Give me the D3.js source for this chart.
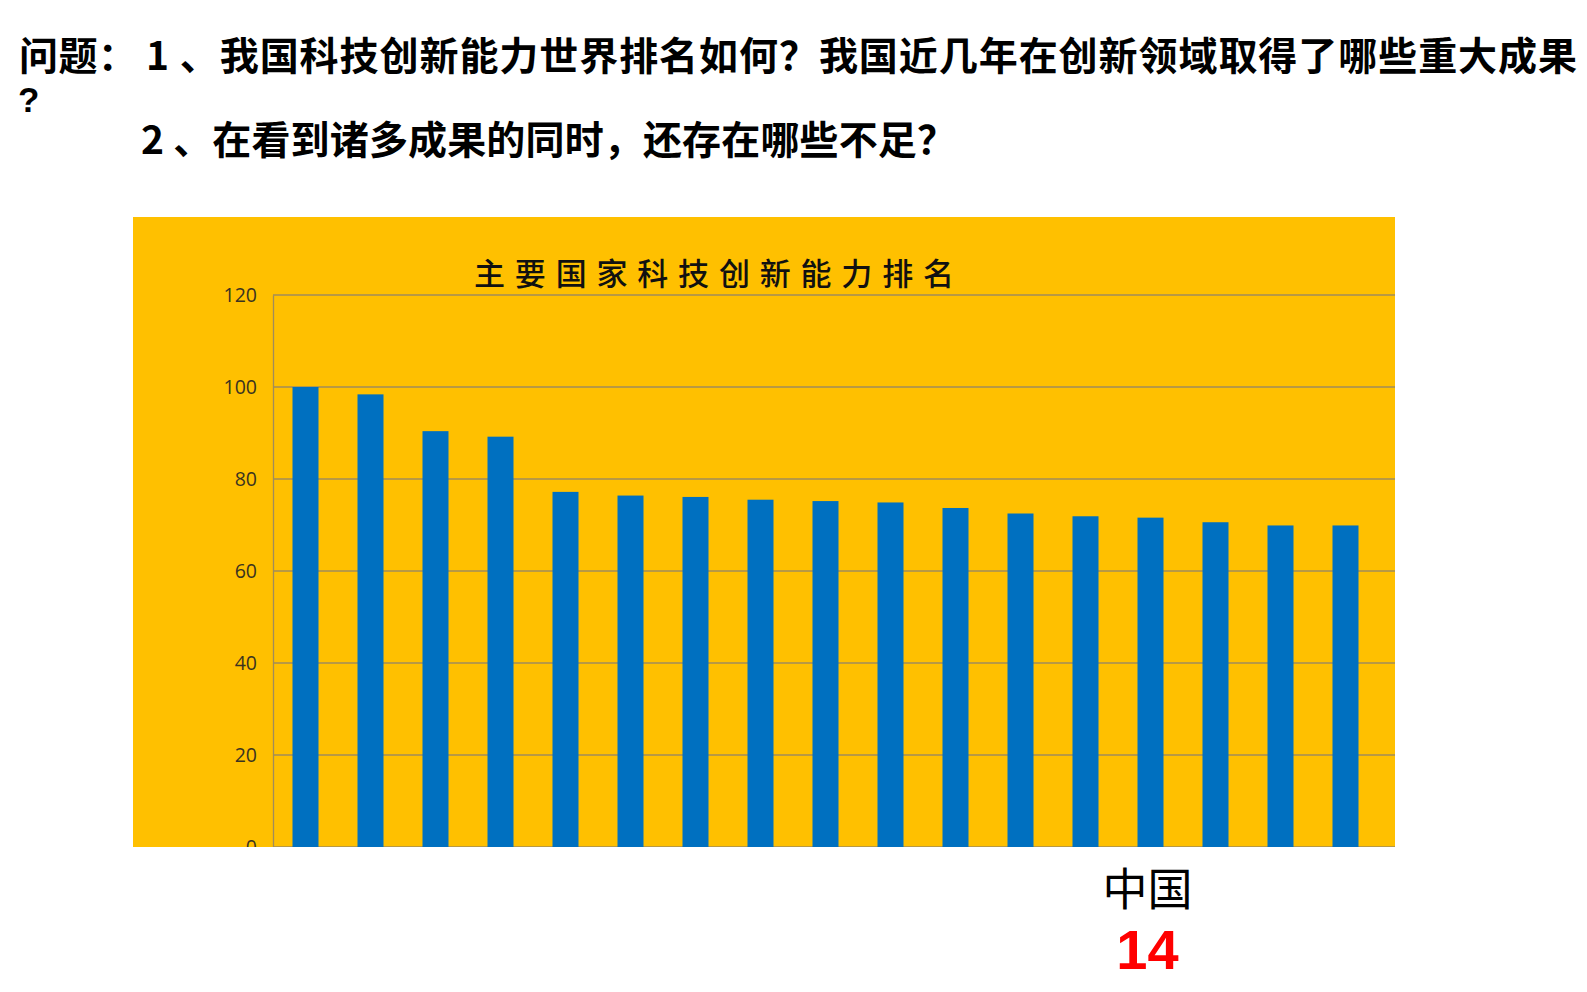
<!DOCTYPE html>
<html>
<head>
<meta charset="utf-8">
<script src="https://cdn.jsdelivr.net/npm/d3@7"></script>
<style>
  body { margin: 0; background: #fff; }
  svg { display: block; }
</style>
</head>
<body>
<div class="chart"></div>
<script>
// chart data
var ranks = ["1","2","3","4","5","6","7","8","9","10","11","12","13","14","15","16","17"];
var scores = [100, 98.4, 90.4, 89.2, 77.2, 76.4, 76.1, 75.5, 75.2, 74.9, 73.7, 72.5, 71.9, 71.6, 70.6, 69.9, 69.9];
var barLabels = ["","","","","","","","","","","","","","中国","","",""];
var yTicks = [0, 20, 40, 60, 80, 100, 120];

var chartTitle = "主要国家科技创新能力排名";
var question1a = "问题：";
var question1b = "1 、我国科技创新能力世界排名如何？我国近几年在创新领域取得了哪些重大成果";
var question1c = "?";
var question2 = "2 、在看到诸多成果的同时，还存在哪些不足？";
var chinaRank = "14";

var svgWidth = 1587;
var svgHeight = 992;

var svg = d3.select(".chart")
  .append("svg")
  .attr("width", svgWidth)
  .attr("height", svgHeight);

var cjk = "'Noto Sans CJK SC', 'Noto Sans', sans-serif";

// the question text at the top of the slide
svg.append("text")
  .attr("x", 19).attr("y", 53)
  .attr("dominant-baseline", "central")
  .attr("font-family", cjk).attr("font-weight", 700).attr("font-size", "39px")
  .attr("textLength", 118)
  .text(question1a);

svg.append("text")
  .attr("x", 146).attr("y", 53)
  .attr("dominant-baseline", "central")
  .attr("font-family", cjk).attr("font-weight", 700).attr("font-size", "39px")
  .attr("textLength", 1431)
  .text(question1b);

// wrapped question mark, sits alone on the second line
svg.append("text")
  .attr("x", 18).attr("y", 112)
  .attr("font-family", "'Liberation Sans', Arial, sans-serif")
  .attr("font-weight", 700).attr("font-size", "35px")
  .text(question1c);

svg.append("text")
  .attr("x", 141).attr("y", 137)
  .attr("dominant-baseline", "central")
  .attr("font-family", cjk).attr("font-weight", 700).attr("font-size", "39px")
  .attr("textLength", 815)
  .text(question2);

// chart box
var box = { left: 133, top: 217, right: 1395, bottom: 847 };
var plot = { left: 273, top: 295, right: 1378, bottom: 847 };

svg.append("clipPath")
  .attr("id", "boxClip")
  .append("rect")
  .attr("x", box.left).attr("y", box.top)
  .attr("width", box.right - box.left)
  .attr("height", box.bottom - box.top);

var chart = svg.append("g").attr("clip-path", "url(#boxClip)");

chart.append("rect")
  .attr("x", box.left).attr("y", box.top)
  .attr("width", box.right - box.left)
  .attr("height", box.bottom - box.top)
  .attr("fill", "#FFC000");

var xBandScale = d3.scaleBand()
  .domain(ranks)
  .range([plot.left, plot.right])
  .paddingInner(0.6)
  .paddingOuter(0.3);

var yLinearScale = d3.scaleLinear()
  .domain([0, 120])
  .range([plot.bottom, plot.top]);

// gridlines
chart.selectAll(".grid")
  .data(yTicks)
  .enter()
  .append("line")
  .attr("class", "grid")
  .attr("x1", plot.left)
  .attr("x2", box.right)
  .attr("y1", function(d) { return yLinearScale(d); })
  .attr("y2", function(d) { return yLinearScale(d); })
  .attr("stroke", "#a08c5a")
  .attr("stroke-width", 1.3);

// y axis
var leftAxis = d3.axisLeft(yLinearScale)
  .tickValues(yTicks)
  .tickSize(0)
  .tickPadding(16);

var yAxis = chart.append("g")
  .attr("transform", "translate(" + plot.left + ",0)")
  .call(leftAxis);

yAxis.select(".domain")
  .attr("stroke", "#a08c5a")
  .attr("stroke-width", 1.3);

yAxis.selectAll("text")
  .attr("font-family", "'Open Sans', sans-serif")
  .attr("font-size", "19.5px")
  .attr("fill", "#3a3320");

// bars
chart.selectAll(".bar")
  .data(scores)
  .enter()
  .append("rect")
  .attr("class", "bar")
  .attr("x", function(d, i) { return xBandScale(ranks[i]); })
  .attr("y", function(d) { return yLinearScale(d); })
  .attr("width", xBandScale.bandwidth())
  .attr("height", function(d) { return plot.bottom - yLinearScale(d); })
  .attr("fill", "#0070C0");

// chart title
chart.append("text")
  .attr("x", 474).attr("y", 271)
  .attr("dominant-baseline", "central")
  .attr("font-family", cjk).attr("font-weight", 500).attr("font-size", "31px")
  .attr("textLength", 480)
  .attr("fill", "#111")
  .text(chartTitle);

// label under China's bar
var labelled = barLabels.map(function(d, i) { return { label: d, rank: ranks[i] }; })
  .filter(function(d) { return d.label !== ""; });

var labelGroup = svg.selectAll(".barLabel")
  .data(labelled)
  .enter()
  .append("g")
  .attr("class", "barLabel")
  .attr("transform", function(d) {
    return "translate(" + (xBandScale(d.rank) + xBandScale.bandwidth() / 2 - 3) + ",0)";
  });

labelGroup.append("text")
  .attr("y", 886)
  .attr("text-anchor", "middle")
  .attr("dominant-baseline", "central")
  .attr("font-family", cjk).attr("font-size", "45px")
  .attr("fill", "#000")
  .text(function(d) { return d.label; });

labelGroup.append("text")
  .attr("y", 949)
  .attr("text-anchor", "middle")
  .attr("dominant-baseline", "central")
  .attr("font-family", "'Liberation Sans', Arial, sans-serif")
  .attr("font-weight", 700)
  .attr("font-size", "56px")
  .attr("fill", "#FF0000")
  .text(chinaRank);
</script>
</body>
</html>
